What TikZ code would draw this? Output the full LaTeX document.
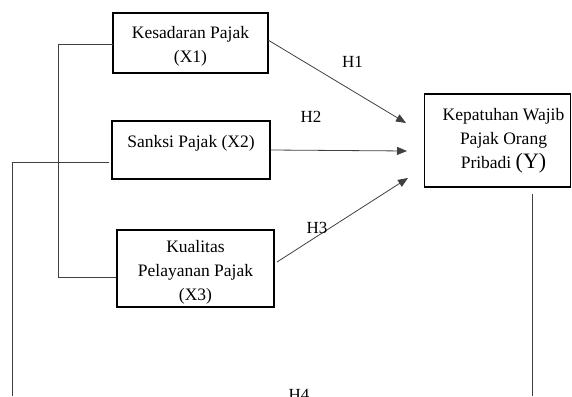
\documentclass[tikz,border=0pt]{standalone}
\usepackage{fontspec}
\setmainfont{Liberation Serif}
\usetikzlibrary{arrows.meta}
\begin{document}
\begin{tikzpicture}[x=1pt,y=-1pt,
  box/.style={draw=black,line width=1.3pt,inner sep=0pt},
  txt/.style={align=center,inner sep=0pt,font=\fontsize{17.5}{24}\selectfont},
  lbl/.style={inner sep=0pt,anchor=base,font=\fontsize{17}{20}\selectfont},
  link/.style={draw=black!75,line width=0.8pt},
  arr/.style={link,-{Triangle[length=10pt,width=8pt]}}]
\useasboundingbox (0,0) rectangle (572,396);
\clip (0,0) rectangle (572,396);
% boxes
\node[box,minimum width=155pt,minimum height=60pt] (x1) at (190.5,43) {};
\node[box,minimum width=158pt,minimum height=58pt] (x2) at (191,150) {};
\node[box,minimum width=157pt,minimum height=77pt] (x3) at (195.5,268.5) {};
\node[box,minimum width=146pt,minimum height=93pt] (y) at (497.5,140.5) {};
% texts
\node[txt] (x1t) at (190.5,46) {Kesadaran Pajak\\(X1)};
\node[txt] (x2t) at (191,143) {Sanksi Pajak (X2)};
\node[txt] (x3t) at (195.5,272) {Kualitas\\Pelayanan Pajak\\(X3)};
\node[txt] (yt) at (503.5,140.5) {Kepatuhan Wajib\\Pajak Orang\\Pribadi {\fontsize{22}{24}\selectfont(Y)}};
% arrow ends
\coordinate (e1) at (406,123);
\coordinate (e2) at (407,151);
\coordinate (e3) at (408,178);
\coordinate (s1) at (268,40);
\coordinate (s3) at (277,262);
\draw[arr] (s1) -- (e1);
\draw[arr] (x2.east) -- (e2);
\draw[arr] (s3) -- (e3);
% labels
\node[lbl] (h1) at (352.5,67) {H1};
\node[lbl] (h2) at (311,122) {H2};
\node[lbl] (h3) at (317,233) {H3};
\node[lbl] (h4) at (299,400) {H4};
% bracket lines
\coordinate (b1) at (58,44);
\coordinate (b2) at (58,277);
\draw[link] (113,44) -- (b1) -- (b2) -- (x3.west |- b2);
\coordinate (c0) at (109,162);
\coordinate (c1) at (12,162);
\coordinate (c2) at (12,396);
\draw[link] (c0) -- (c1) -- (c2);
\coordinate (d0) at (532,194);
\coordinate (d1) at (532,396);
\draw[link] (d0) -- (d1);
\end{tikzpicture}
\end{document}
